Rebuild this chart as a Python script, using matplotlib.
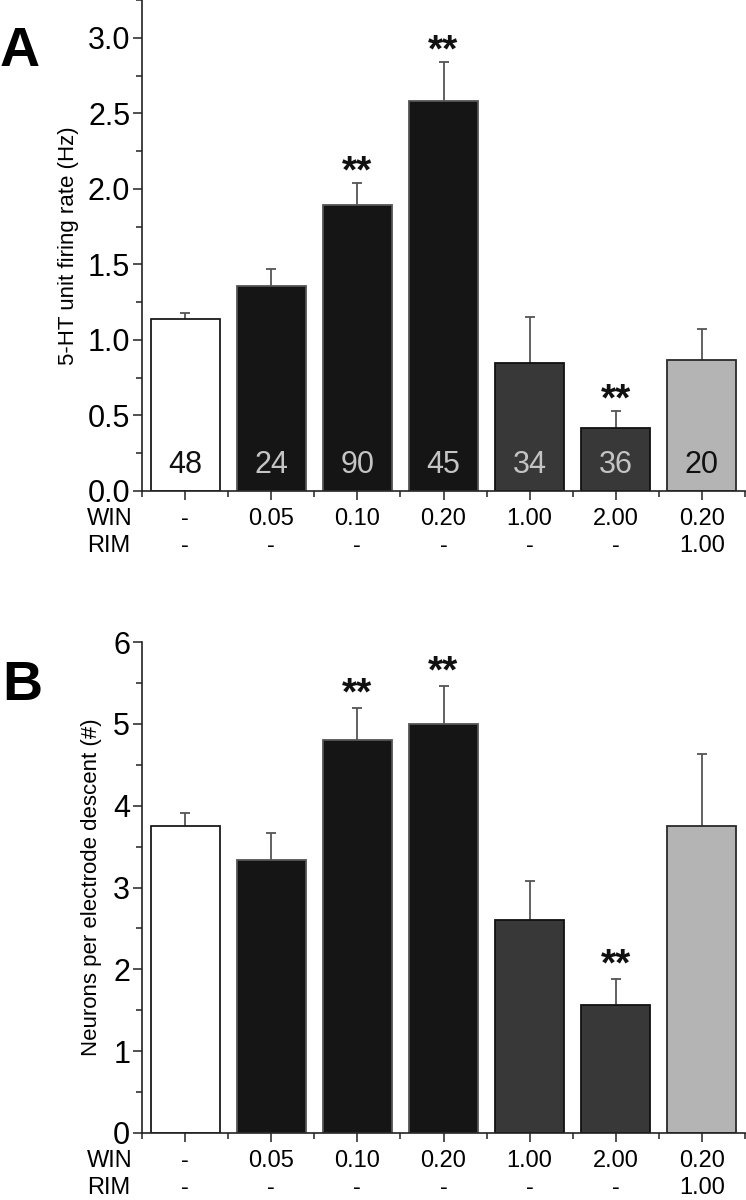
import numpy as np
import matplotlib
matplotlib.use("Agg")
import matplotlib.pyplot as plt

plt.rcParams['font.family'] = ['Liberation Sans', 'DejaVu Sans']

# ---------------- data ----------------
win_labels = ["-", "0.05", "0.10", "0.20", "1.00", "2.00", "0.20"]
rim_labels = ["-", "-", "-", "-", "-", "-", "1.00"]

rate_mean = [1.14, 1.36, 1.89, 2.58, 0.85, 0.42, 0.87]
rate_sem = [0.04, 0.11, 0.15, 0.26, 0.30, 0.11, 0.20]
rate_n = ["48", "24", "90", "45", "34", "36", "20"]
rate_sig = [False, False, True, True, False, True, False]

neur_mean = [3.75, 3.33, 4.80, 5.00, 2.60, 1.56, 3.75]
neur_sem = [0.16, 0.34, 0.39, 0.46, 0.48, 0.32, 0.88]
neur_sig = [False, False, True, True, False, True, False]

bar_fill = ["#ffffff", "#151515", "#151515", "#151515", "#383838", "#383838", "#b4b4b4"]
bar_edge = ["#1a1a1a", "#555555", "#555555", "#555555", "#111111", "#111111", "#2a2a2a"]
n_color = ["#111111", "#c4c4c4", "#c4c4c4", "#c4c4c4", "#c4c4c4", "#c4c4c4", "#111111"]

x = np.arange(1, len(win_labels) + 1)

fig = plt.figure(figsize=(7.46, 12), dpi=100)
axA = fig.add_axes([142/746, 1 - 491/1200, 603/746, 491/1200])
axB = fig.add_axes([142/746, 1 - 1133/1200, 603/746, 491/1200])


def draw(ax, mean, sem, sig, ylim, major, minor, ylabel, fmt, star_off, lpad):
    ax.bar(x, mean, width=0.8, color=bar_fill, edgecolor=bar_edge, linewidth=1.3, zorder=2)
    eb = ax.errorbar(x, mean, yerr=[np.zeros(len(sem)), sem], fmt='none', ecolor='#555555',
                     elinewidth=1.3, capsize=3.5, capthick=1.3, zorder=1)
    caps = eb[1]
    if len(caps) >= 1:
        caps[0].set_visible(False)
    for xi, m, s, g in zip(x, mean, sem, sig):
        if g:
            ax.annotate("**", xy=(xi, m + s), xytext=(0, star_off), textcoords='offset points',
                        ha='center', va='baseline', fontsize=28, fontweight='bold', color='#111111')
    ax.set_xlim(0.5, 7.5)
    ax.set_ylim(*ylim)
    ticks = np.arange(0, ylim[1] + 1e-9, major)
    ax.set_yticks(ticks)
    ax.set_yticks(np.arange(0, ylim[1] + 1e-9, minor), minor=True)
    ax.set_yticklabels([fmt.format(v) for v in ticks], fontsize=22)
    ax.set_xticks(x)
    ax.set_xticklabels([])
    ax.set_xticks(np.arange(0.5, 7.6, 1.0), minor=True)
    for sp in ['top', 'right']:
        ax.spines[sp].set_visible(False)
    for sp in ['left', 'bottom']:
        ax.spines[sp].set_linewidth(1.2)
        ax.spines[sp].set_color('#222222')
    ax.tick_params(axis='both', which='major', direction='out', length=6.5, width=1.1, color='#222222', pad=2)
    ax.tick_params(axis='both', which='minor', direction='out', length=4, width=1.1, color='#222222')
    ax.set_ylabel(ylabel, fontsize=16, labelpad=lpad)
    for xi, w, r in zip(x, win_labels, rim_labels):
        ax.annotate(w, xy=(xi, 0), xycoords=('data', 'axes fraction'), xytext=(0, -20),
                    textcoords='offset points', ha='center', va='center', fontsize=17)
        ax.annotate(r, xy=(xi, 0), xycoords=('data', 'axes fraction'), xytext=(0, -39.5),
                    textcoords='offset points', ha='center', va='center', fontsize=17)
    ax.annotate("WIN", xy=(0, 0), xycoords='axes fraction', xytext=(-39.5, -20),
                textcoords='offset points', ha='left', va='center', fontsize=17)
    ax.annotate("RIM", xy=(0, 0), xycoords='axes fraction', xytext=(-39.5, -39.5),
                textcoords='offset points', ha='left', va='center', fontsize=17)


draw(axA, rate_mean, rate_sem, rate_sig, (0, 3.25), 0.5, 0.25,
     "5-HT unit firing rate (Hz)", "{:.1f}", 0, 6)
draw(axB, neur_mean, neur_sem, neur_sig, (0, 6), 1, 0.5,
     "Neurons per electrode descent (#)", "{:.0f}", 3, 8)

for xi, t, c in zip(x, rate_n, n_color):
    axA.text(xi, 0.12, t, ha='center', va='baseline', fontsize=22, color=c, zorder=3)

fig.text(0/746, 1 - 52/1200, "A", fontsize=40, fontweight='bold', ha='left', va='center')
fig.text(2/746, 1 - 686/1200, "B", fontsize=40, fontweight='bold', ha='left', va='center')

fig.savefig("out.png", dpi=100)
